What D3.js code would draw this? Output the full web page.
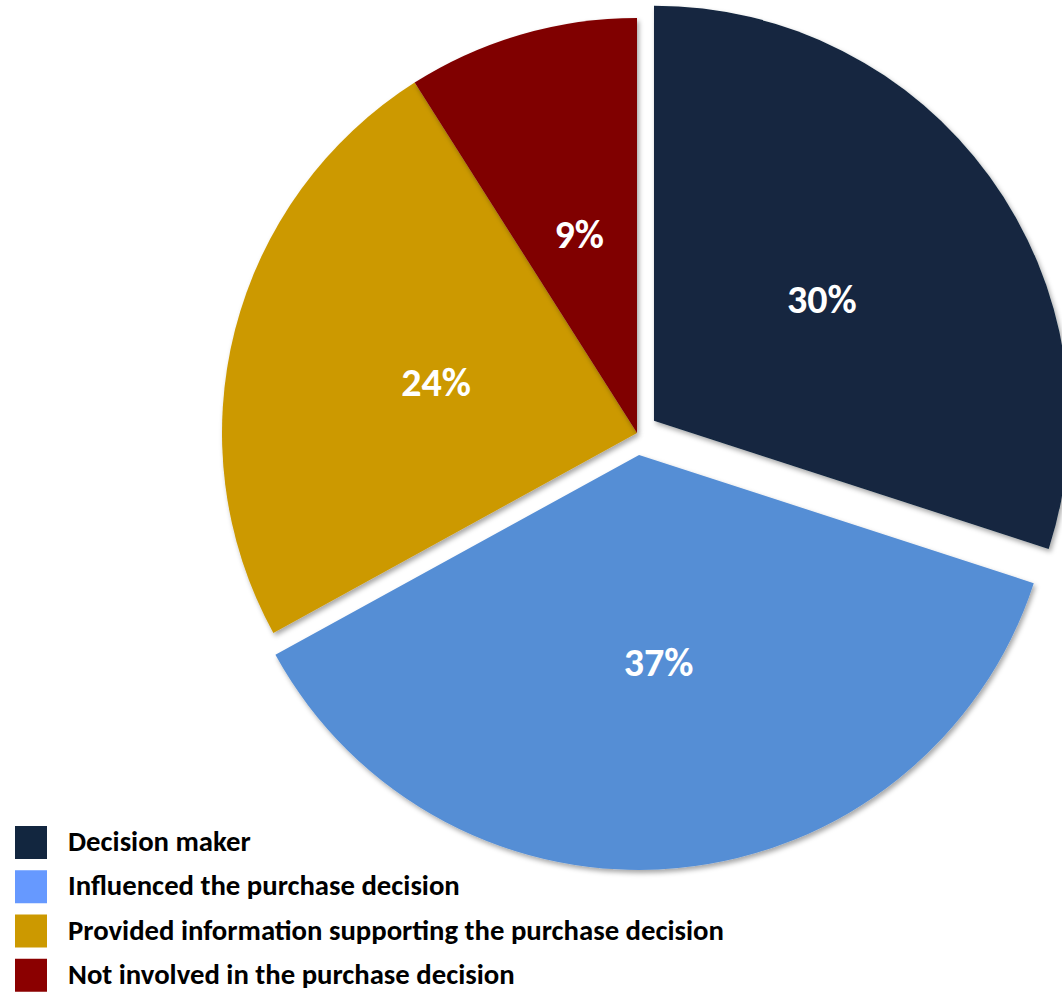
<!DOCTYPE html>
<html>
<head>
<meta charset="utf-8">
<script src="https://cdn.jsdelivr.net/npm/d3@7"></script>
<style>
  html, body { margin: 0; padding: 0; background: #fff; }
  svg { display: block; }
</style>
</head>
<body>
<svg id="chart" width="1062" height="992"></svg>
<script>
// ---- data ----
const categories = [
  "Decision maker",
  "Influenced the purchase decision",
  "Provided information supporting the purchase decision",
  "Not involved in the purchase decision"
];
const values = [30, 37, 24, 9];
const labels = ["30%", "37%", "24%", "9%"];

// ---- style ----
const sliceColors = ["#12263F", "#558ED5", "#CC9900", "#800000"];
const legendColors = ["#12263F", "#6699FF", "#CC9900", "#8B0000"];
const explode = [21, 22, 0, 0];

const W = 1062, H = 992;
const cx = 637, cy = 433, R = 415;

const svg = d3.select("#chart");
const defs = svg.append("defs");
const f = defs.append("filter").attr("id", "shadow")
  .attr("x", "-10%").attr("y", "-10%").attr("width", "120%").attr("height", "120%");
f.append("feDropShadow").attr("dx", 2).attr("dy", 3).attr("stdDeviation", 2.5)
  .attr("flood-color", "#000").attr("flood-opacity", 0.35);

const pie = d3.pie().sort(null).value(d => d.v).startAngle(0).endAngle(2 * Math.PI);
const arc = d3.arc().innerRadius(0).outerRadius(R);
const data = values.map((v, i) => ({ v, i }));
const arcs = pie(data);

const g = svg.append("g").attr("transform", `translate(${cx},${cy})`);

const slices = g.selectAll("g.slice").data(arcs).join("g")
  .attr("class", "slice")
  .attr("transform", d => {
    const a = (d.startAngle + d.endAngle) / 2;
    const o = explode[d.data.i];
    return `translate(${o * Math.sin(a)},${-o * Math.cos(a)})`;
  });

slices.append("path")
  .attr("d", arc)
  .attr("fill", d => sliceColors[d.data.i])
  .attr("filter", "url(#shadow)");

slices.append("text")
  .attr("transform", d => `translate(${arc.centroid(d)})`)
  .attr("text-anchor", "middle")
  .attr("dy", "0.36em")
  .attr("fill", "#fff")
  .attr("font-family", "Carlito, Calibri, Lato, sans-serif")
  .attr("font-weight", "bold")
  .attr("font-size", 40)
  .text(d => labels[d.data.i]);

// ---- legend ----
const legend = svg.append("g").attr("class", "legend");
const rowY = d3.scaleBand().domain(d3.range(categories.length)).range([826, 1003]).paddingInner(0);
const rows = legend.selectAll("g").data(categories).join("g")
  .attr("transform", (d, i) => `translate(15,${rowY(i)})`);
rows.append("rect").attr("width", 32).attr("height", 33)
  .attr("fill", (d, i) => legendColors[i]);
const texts = rows.append("text")
  .attr("x", 53).attr("y", 15).attr("dy", "0.35em")
  .attr("font-family", "Carlito, Calibri, Lato, sans-serif")
  .attr("font-weight", "bold")
  .attr("font-size", 24)
  .attr("fill", "#000")
  .text(d => d);

// fit legend font so the longest entry spans ~656px like the reference
const longest = d3.max(texts.nodes(), n => n.getComputedTextLength());
const fs = 24 * 656 / longest;
texts.attr("font-size", fs);
</script>
</body>
</html>
